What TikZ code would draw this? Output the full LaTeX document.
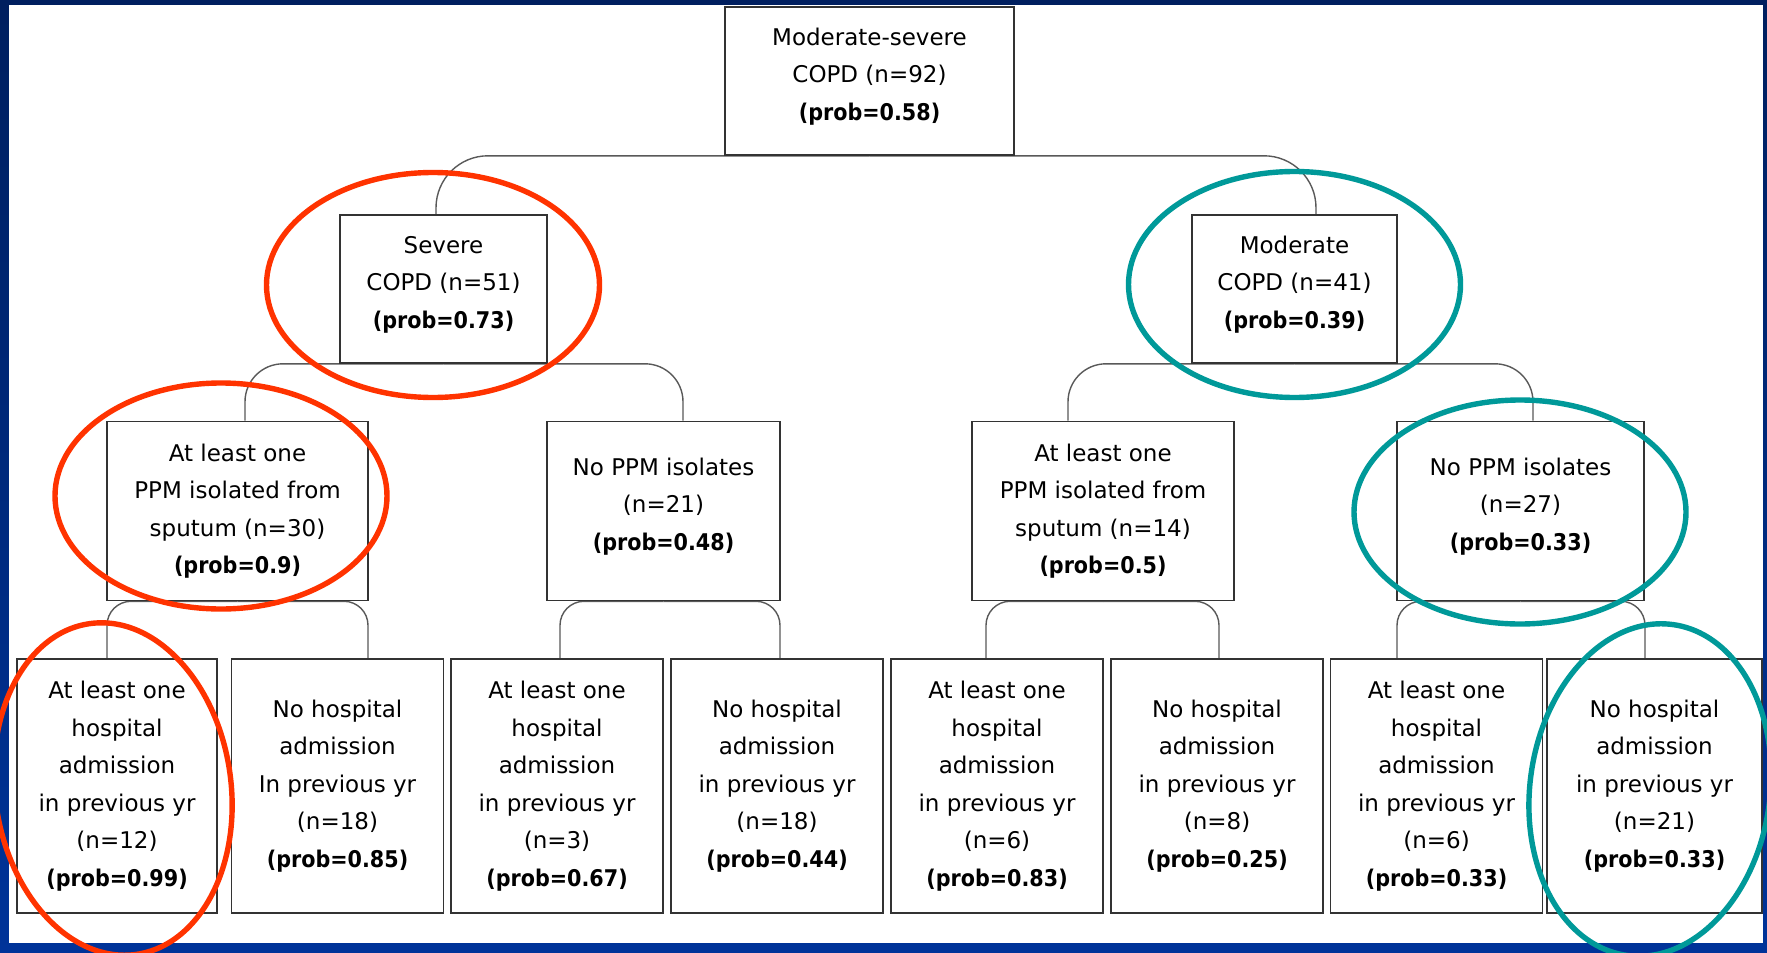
\documentclass[tikz,border=0pt]{standalone}
\usepackage{fontspec}
\setmainfont{DejaVu Sans}[BoldFeatures={FakeStretch=0.9}]
\usetikzlibrary{backgrounds}

\definecolor{framenavy}{HTML}{001F5F}
\definecolor{frameblue}{HTML}{003399}
\definecolor{ringred}{HTML}{FF3300}
\definecolor{ringteal}{HTML}{009999}

\newcommand{\probv}[1]{\textbf{(prob=#1)}}

\begin{document}
\begin{tikzpicture}[
   x=0.5pt,y=0.5pt,
   box/.style={draw=black!80,line width=0.8pt,fill=white,align=center,inner sep=0pt,
      font=\fontsize{11.5}{18.75}\selectfont},
   top/.style={box,minimum height=74pt,text depth=7pt},
   mid/.style={box,minimum height=89.5pt},
   leaf/.style={box,minimum width=106pt,minimum height=127pt},
   link/.style={draw=black!65,line width=0.7pt},
   redring/.style={draw=ringred,line width=2.7pt},
   tealring/.style={draw=ringteal,line width=2.7pt}
 ]
  \useasboundingbox (0,0) rectangle (1767,-953);
  \clip (0,0) rectangle (1767,-953);
  \begin{scope}[on background layer]
   \shade[top color=framenavy,bottom color=frameblue] (0,0) rectangle (1767,-953);
   \fill[white] (9,-5) rectangle (1763,-943);
  \end{scope}

  \node[top,minimum width=144.5pt] (root) at (869.5,-81) {Moderate-severe\\COPD (n=92)\\\probv{0.58}};
  \node[top,minimum width=103.5pt] (severe) at (443.5,-289) {Severe\\COPD (n=51)\\\probv{0.73}};
  \node[top,minimum width=102.5pt] (moderate) at (1294.5,-289) {Moderate\\COPD (n=41)\\\probv{0.39}};

  \node[mid,minimum width=130.5pt] (ppmS) at (237.5,-511) {At least one\\PPM isolated from\\sputum (n=30)\\\probv{0.9}};
  \node[mid,minimum width=116.5pt,text depth=7pt] (noppmS) at (663.5,-511) {No PPM isolates\\(n=21)\\\probv{0.48}};
  \node[mid,minimum width=131pt] (ppmM) at (1103,-511) {At least one\\PPM isolated from\\sputum (n=14)\\\probv{0.5}};
  \node[mid,minimum width=123.5pt,text depth=7pt] (noppmM) at (1520.5,-511) {No PPM isolates\\(n=27)\\\probv{0.33}};

  \node[leaf,minimum width=100pt] (h1) at (117,-786) {At least one\\hospital\\admission\\in previous yr\\(n=12)\\\probv{0.99}};
  \node[leaf] (h2) at (337.5,-786) {No hospital\\admission\\In previous yr\\(n=18)\\\probv{0.85}};
  \node[leaf] (h3) at (557,-786) {At least one\\hospital\\admission\\in previous yr\\(n=3)\\\probv{0.67}};
  \node[leaf] (h4) at (777,-786) {No hospital\\admission\\in previous yr\\(n=18)\\\probv{0.44}};
  \node[leaf] (h5) at (997,-786) {At least one\\hospital\\admission\\in previous yr\\(n=6)\\\probv{0.83}};
  \node[leaf] (h6) at (1217,-786) {No hospital\\admission\\in previous yr\\(n=8)\\\probv{0.25}};
  \node[leaf] (h7) at (1436.5,-786) {At least one\\hospital\\admission\\in previous yr\\(n=6)\\\probv{0.33}};
  \node[leaf,minimum width=107.5pt] (h8) at (1654.5,-786) {No hospital\\admission\\in previous yr\\(n=21)\\\probv{0.33}};

  \begin{scope}[on background layer]
   \draw[link,rounded corners=26pt] (root.south) -| ([xshift=-3.75pt]severe.north);
   \draw[link,rounded corners=26pt] (root.south) -| ([xshift=10.75pt]moderate.north);
   \draw[link,rounded corners=19pt] (severe.south) -| ([xshift=3.75pt]ppmS.north);
   \draw[link,rounded corners=19pt] (severe.south) -| ([xshift=9.75pt]noppmS.north);
   \draw[link,rounded corners=19pt] (moderate.south) -| ([xshift=-17.5pt]ppmM.north);
   \draw[link,rounded corners=19pt] (moderate.south) -| ([xshift=6.25pt]noppmM.north);
   \draw[link,rounded corners=12pt] (ppmS.south) -| ([xshift=-5pt]h1.north);
   \draw[link,rounded corners=12pt] (ppmS.south) -| ([xshift=15.25pt]h2.north);
   \draw[link,rounded corners=12pt] (noppmS.south) -| ([xshift=1.5pt]h3.north);
   \draw[link,rounded corners=12pt] (noppmS.south) -| ([xshift=1.5pt]h4.north);
   \draw[link,rounded corners=12pt] (ppmM.south) -| ([xshift=-5.5pt]h5.north);
   \draw[link,rounded corners=12pt] (ppmM.south) -| ([xshift=1pt]h6.north);
   \draw[link,rounded corners=12pt] (noppmM.south) -| ([xshift=-19.75pt]h7.north);
   \draw[link,rounded corners=12pt] (noppmM.south) -| ([xshift=-4.75pt]h8.north);
  \end{scope}

  \draw[redring] (433,-285) ellipse [x radius=166.5,y radius=112.5];
  \draw[redring] (221,-496) ellipse [x radius=166,y radius=113];
  \draw[redring] (113,-789) ellipse [x radius=118,y radius=167,rotate=8];
  \draw[tealring] (1294.5,-284.5) ellipse [x radius=166,y radius=113];
  \draw[tealring] (1520,-512) ellipse [x radius=166,y radius=112];
  \draw[tealring] (1650,-790) ellipse [x radius=120,y radius=167,rotate=-8];
 \end{tikzpicture}
\end{document}
